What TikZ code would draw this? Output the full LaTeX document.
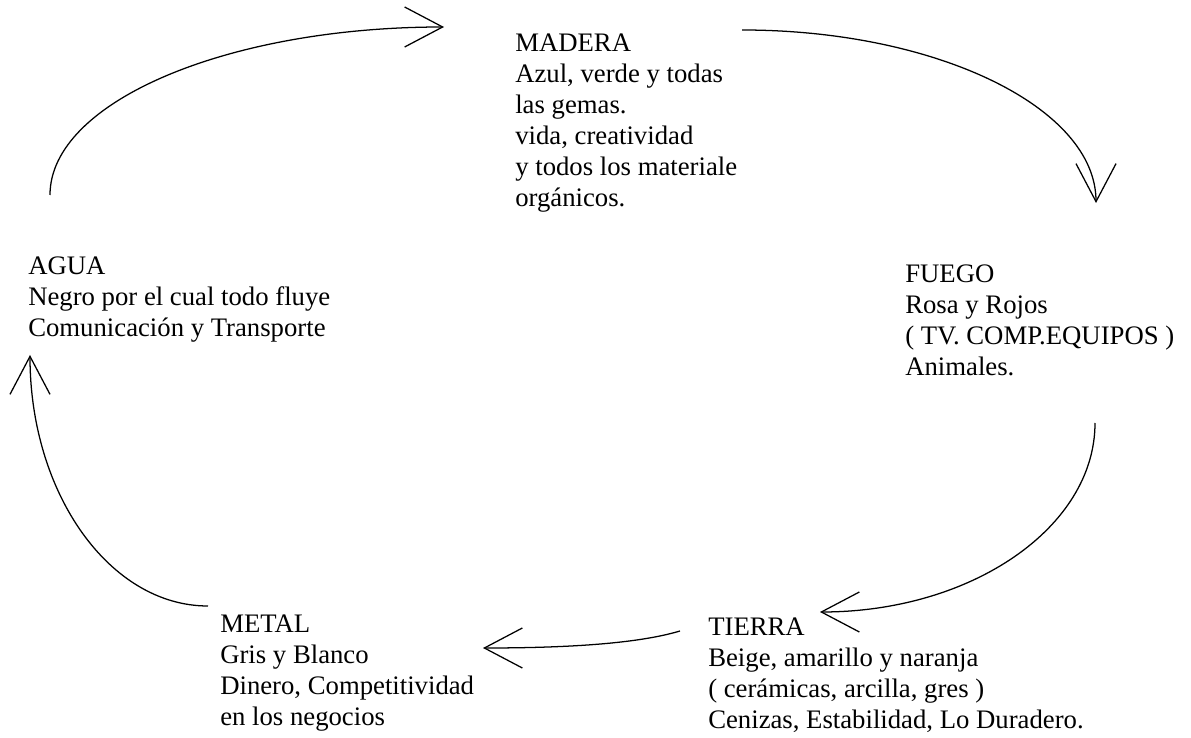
\documentclass[tikz,border=0pt]{standalone}
\usepackage{fontspec}
\setmainfont{Liberation Serif}
\usetikzlibrary{calc}
\usetikzlibrary{arrows.meta}

\tikzset{
  elemento/.style={anchor=north west, inner sep=0pt, align=left, font=\fontsize{19}{22}\selectfont},
  flecha/.style={line width=0.9pt, -{Straight Barb[length=0.95cm,width=1cm]}}
}

\begin{document}
\begin{tikzpicture}[x=0.025cm, y=0.025cm]
\useasboundingbox (0,0) rectangle (1191,737);

\node[elemento] (madera) at (515,703) {MADERA\\Azul, verde y todas\\las gemas.\\vida, creatividad\\y todos los materiale\\orgánicos.};
\node[elemento] (fuego) at (905,472) {FUEGO\\Rosa y Rojos\\( TV. COMP.EQUIPOS )\\Animales.};
\node[elemento] (tierra) at (708,119) {TIERRA\\Beige, amarillo y naranja\\( cerámicas, arcilla, gres )\\Cenizas, Estabilidad, Lo Duradero.};
\node[elemento] (metal) at (220,122) {METAL\\Gris y Blanco\\Dinero, Competitividad\\en los negocios};
\node[elemento] (agua) at (28,480) {AGUA\\Negro por el cual todo fluye\\Comunicación y Transporte};

\coordinate (aguasale) at ($ (agua.north west)+(22,62) $);
\coordinate (maderallega) at ($ (madera.north west)+(-71,7) $);
\coordinate (maderasale) at ($ (madera.north west)+(227,4) $);
\coordinate (fuegollega) at ($ (fuego.north west)+(191,62) $);
\coordinate (fuegosale) at ($ (fuego.north west)+(190,-158) $);
\coordinate (tierrallega) at ($ (tierra.north west)+(112,6) $);
\coordinate (tierrasale) at ($ (tierra.north west)+(-28,-13) $);
\coordinate (metallega) at ($ (metal.north west)+(263,-33) $);
\coordinate (metalsale) at ($ (metal.north west)+(-12,9) $);
\coordinate (agualega) at ($ (agua.north west)+(2,-98) $);

\draw[flecha] (aguasale) .. controls +(0,93) and +(-217,0) .. (maderallega);
\draw[flecha] (maderasale) .. controls +(195,0) and +(0,95) .. (fuegollega);
\draw[flecha] (fuegosale) .. controls +(0,-104) and +(152,0) .. (tierrallega);
\draw[flecha] (tierrasale) .. controls +(-40,-12) and +(90,0) .. (metallega);
\draw[flecha] (metalsale) .. controls +(-98,0) and +(0,-139) .. (agualega);
\end{tikzpicture}
\end{document}
